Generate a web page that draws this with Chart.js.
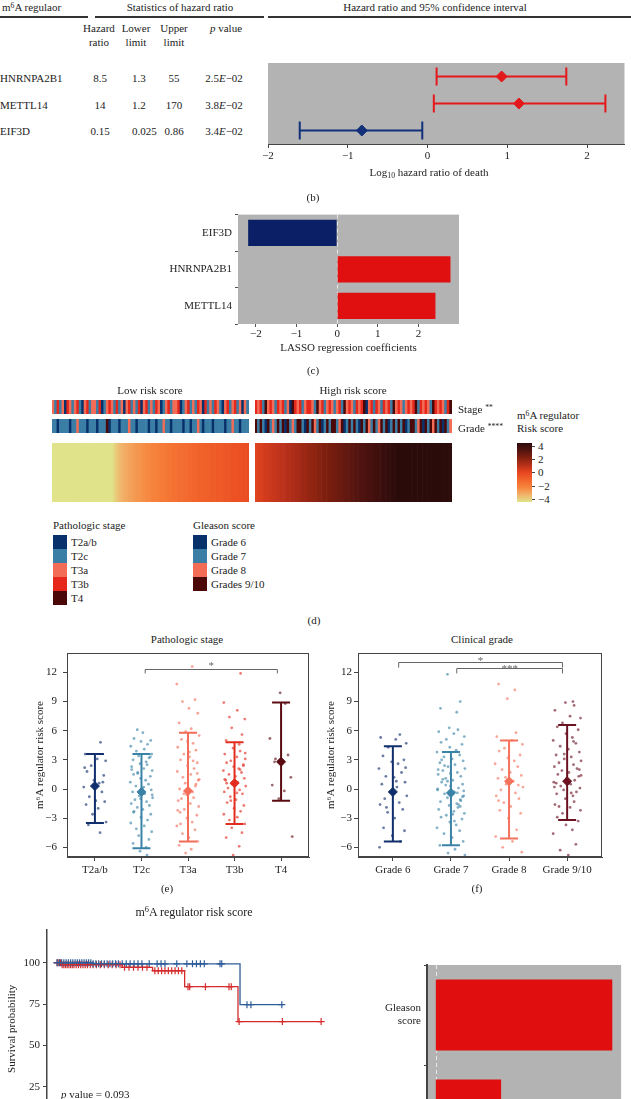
<!DOCTYPE html>
<html>
<head>
<meta charset="utf-8">
<script src="https://cdn.jsdelivr.net/npm/chart.js@4.4.0/dist/chart.umd.min.js"></script>
<style>
html, body { margin: 0; padding: 0; background: #fff; overflow: hidden; }
#page { position: relative; width: 631px; height: 1099px; overflow: hidden; font-family: "Liberation Serif", "DejaVu Serif", serif; font-size: 11px; color: #222; }
#page canvas { position: absolute; }
.t { position: absolute; white-space: nowrap; line-height: 1; }
.t sup { font-size: 70%; position: relative; top: -0.45em; vertical-align: 0; }
.t sub { font-size: 70%; position: relative; top: 0.3em; vertical-align: 0; }
.rule { position: absolute; height: 2px; background: #333; }
.sw { position: absolute; width: 14px; height: 14px; }
</style>
</head>
<body>
<div id="page"></div>
<script>
// (b) univariate cox table + forest plot
const genes = ['HNRNPA2B1', 'METTL14', 'EIF3D'];
const hazardRatio = [8.5, 14, 0.15];
const lowerLimit = [1.3, 1.2, 0.025];
const upperLimit = [55, 170, 0.86];
const pValue = ['2.5', '3.8', '3.4'];
const forestTicks = [-2, -1, 0, 1, 2];

// (c) LASSO coefficients
const lassoGenes = ['EIF3D', 'HNRNPA2B1', 'METTL14'];
const lassoCoef = [-2.19, 2.79, 2.42];
const lassoTicks = [-2, -1, 0, 1, 2];

// (d) heatmap, samples sorted by risk score
const riskLow = [-6.3,-6.0,-5.8,-5.6,-5.5,-5.4,-5.3,-5.2,-5.1,-5.0,-4.9,-4.9,-4.8,-4.7,-4.6,-4.6,-4.5,-4.4,-4.4,-4.3,-4.2,-4.2,-4.1,-4.0,-4.0,
  -3.7,-3.4,-3.2,-3.0,-2.9,-2.8,-2.7,-2.6,-2.5,-2.4,-2.4,-2.3,-2.2,-2.1,-2.1,-2.0,-1.9,-1.9,-1.8,-1.7,-1.7,-1.6,-1.5,-1.5,-1.4,
  -1.4,-1.3,-1.3,-1.2,-1.2,-1.1,-1.1,-1.0,-1.0,-0.9,-0.9,-0.9,-0.8,-0.8,-0.7,-0.7,-0.7,-0.6,-0.6,-0.6,-0.5,-0.5,-0.5,-0.4,-0.4,
  -0.4,-0.3,-0.3,-0.3,-0.2];
const riskHigh = [0.2,0.3,0.3,0.4,0.5,0.5,0.6,0.7,0.7,0.8,0.9,0.9,1.0,1.1,1.1,1.2,1.3,1.3,1.4,1.5,
  1.5,1.6,1.7,1.7,1.8,1.9,1.9,2.0,2.1,2.1,2.2,2.3,2.3,2.4,2.5,2.5,2.6,2.7,2.7,2.8,
  2.9,2.9,3.0,3.1,3.1,3.2,3.3,3.3,3.4,3.5,3.5,3.6,3.7,3.7,3.8,3.9,3.9,4.0,4.2,4.4,
  4.6,4.9,5.2,5.5,5.8,6.1,6.4,6.8,7.2,7.6,8.0,8.4,8.9,9.4,9.9,10.4,10.9,11.4,11.9,12.6];
// stage code per sample: 0 T2a/b, 1 T2c, 2 T3a, 3 T3b, 4 T4
const stageLow  = '2131203212 3102312213 0123213120 2312130231 2132012312 2301231213 2031213210 2312312021';
const stageHigh = '3231423213 2312043231 2332142312 3212314232 1323402313 2132314232 1232341323 2143232134';
// grade code per sample: 0 Grade 6, 1 Grade 7, 2 Grade 8, 3 Grades 9/10
const gradeLow  = '1101111011 2111011101 1130111011 1211011110 1101121101 1110110112 1011101111 0112110111';
const gradeHigh = '3131031213 1303121331 0313213013 1331230131 3103132131 2313013131 3013312303 1323130312';
const stageNames = ['T2a/b', 'T2c', 'T3a', 'T3b', 'T4'];
const gradeNames = ['Grade 6', 'Grade 7', 'Grade 8', 'Grades 9/10'];
const heatTicks = [4, 2, 0, -2, -4];

// (e) risk score by pathologic stage
const stageCats = ['T2a/b', 'T2c', 'T3a', 'T3b', 'T4'];
const stageMean = [0.3, -0.3, -0.2, 0.6, 2.8];
const stageLo = [-3.5, -6.1, -5.4, -3.6, -1.2];
const stageHi = [3.6, 3.6, 5.8, 4.8, 8.9];
const ptsT2ab = [4.8,3.6,3.1,2.9,2.4,1.8,1.4,0.9,0.6,0.2,-0.3,-0.8,-1.2,-1.3,-1.6,-2.0,-2.6,-3.4,-3.7,-4.5,2.2,0.7];
const ptsT2c = [6.1,5.8,5.2,5.0,4.9,4.6,4.4,4.1,3.9,3.6,3.4,3.2,3.0,2.8,2.6,2.5,2.3,2.1,1.9,1.7,1.5,1.3,1.1,0.9,0.7,0.5,0.3,0.1,-0.1,-0.3,
  -0.5,-0.7,-0.9,-1.1,-1.3,-1.5,-1.7,-1.9,-2.1,-2.3,-2.6,-2.9,-3.2,-3.5,-3.8,-4.1,-4.4,-4.8,-5.2,-5.6,-6.0,-6.4,-6.8,2.0,0.2,-0.6,1.6,-2.4,3.3,-1.0];
const ptsT3a = [12.6,10.8,9.2,9.0,8.3,7.8,6.8,6.2,5.9,5.5,5.1,4.7,4.3,4.0,3.6,3.3,3.0,2.7,2.4,2.1,1.8,1.5,1.2,0.9,0.6,0.3,0.0,-0.3,-0.6,-0.9,
  -1.2,-1.5,-1.8,-2.1,-2.4,-2.7,-3.0,-3.4,-3.8,-4.2,-4.6,-5.0,-5.4,-5.8,-6.2,-6.6,1.0,-1.0,2.9,-2.2,0.5,-0.5,3.8,-3.6,1.6,4.9];
const ptsT3b = [11.9,8.9,8.1,7.4,7.2,6.3,5.6,5.0,4.6,4.2,3.9,3.6,3.3,3.1,2.9,2.7,2.5,2.3,2.1,1.9,1.7,1.5,1.3,1.1,0.9,0.7,0.5,0.3,0.1,-0.1,
  -0.3,-0.5,-0.8,-1.1,-1.4,-1.7,-2.0,-2.3,-2.6,-2.9,-3.2,-3.6,-4.0,-4.5,-5.0,-5.9,-6.8,2.0,1.0,-0.4,3.7,-1.2,0.6,2.4];
const ptsT4 = [9.9,8.8,5.2,3.5,3.1,2.6,1.2,0.4,-0.2,-1.0,-4.9,2.8];

// (f) risk score by clinical grade
const gradeCats = ['Grade 6', 'Grade 7', 'Grade 8', 'Grade 9/10'];
const gradeMean = [-0.3, -0.4, 0.8, 0.8];
const gradeLo = [-5.4, -5.8, -5.1, -3.2];
const gradeHi = [4.4, 3.8, 5.0, 6.6];
const ptsG6 = [5.6,5.3,5.1,4.7,4.3,3.4,3.0,2.8,2.6,2.1,1.7,1.3,1.2,0.7,0.5,0.2,-0.3,-0.7,-1.0,-1.4,-1.6,-2.1,-2.4,-3.0,-4.0,-4.3,-4.8,-5.4,-6.0,0.8,-1.9,2.2];
const ptsG7 = [11.8,9.0,8.3,7.9,6.3,6.1,5.9,5.7,5.4,5.1,4.8,4.6,4.3,4.0,3.8,3.5,3.3,3.1,2.9,2.7,2.5,2.3,2.1,1.9,1.7,1.5,1.3,1.1,0.9,0.7,
  0.5,0.3,0.1,-0.1,-0.3,-0.5,-0.7,-0.9,-1.1,-1.3,-1.5,-1.7,-1.9,-2.1,-2.3,-2.5,-2.7,-2.9,-3.1,-3.4,-3.7,-4.0,-4.3,-4.6,-5.0,-5.4,-5.8,-6.2,-6.6,-6.8,
  1.0,-0.4,2.0,-1.2,0.4,-2.6,3.0,-0.8,1.6,-1.6,0.0,-3.3,2.4,-0.2,0.8,-1.8];
const ptsG8 = [10.8,10.2,9.3,5.8,5.4,5.0,4.6,4.2,3.9,3.5,3.2,2.9,2.6,2.3,2.0,1.7,1.4,1.1,0.8,0.5,0.2,-0.1,-0.4,-0.7,-1.0,-1.4,-1.8,-2.2,-2.5,-3.0,
  -4.2,-4.9,-5.4,-6.0,-6.5,1.2,0.4,-1.2];
const ptsG910 = [9.0,8.9,8.6,8.1,7.5,7.3,6.8,6.4,6.1,5.7,5.3,5.0,4.7,4.4,4.1,3.8,3.5,3.3,3.1,2.9,2.7,2.5,2.3,2.1,1.9,1.7,1.5,1.3,1.1,0.9,
  0.7,0.5,0.3,0.1,-0.1,-0.3,-0.5,-0.7,-1.0,-1.3,-1.6,-1.9,-2.2,-2.5,-2.9,-3.3,-3.7,-4.2,-4.6,-5.7,-6.3,-6.8,2.0,0.6,-0.4,3.6,1.4,-1.8,4.9,0.2];
const riskTicks = [-6, -3, 0, 3, 6, 9, 12];
// horizontal spread of the dots (category units)
const jitter = [0.12,-0.21,0.05,0.23,-0.08,-0.17,0.19,-0.02,0.09,-0.24,0.15,-0.12,0.02,0.21,-0.19,0.07,-0.05,0.24,-0.14,0.11,
  -0.22,0.17,-0.09,0.03,-0.16,0.2,-0.01,0.13,-0.23,0.06,-0.11,0.22,-0.06,0.16,-0.18,0.1,-0.03];

// (g) Kaplan-Meier, days
const kmTimeLow = [0, 700, 3316, 4078];
const kmSurvLow = [100, 99.3, 74.6, 74.6];
const kmTimeHigh = [0, 150, 1220, 1760, 2330, 3280, 4760];
const kmSurvHigh = [100, 98.8, 97.2, 95.1, 85.5, 64.4, 64.4];
const censorLow = [60,100,140,180,220,260,300,340,380,420,460,500,540,580,620,660,700,750,800,850,900,950,1000,1050,1100,1150,
  1220,1290,1360,1430,1500,1570,1700,1840,1910,1980,2190,2370,2470,2540,2610,2680,2960,2990,3440,3510,4060];
const censorHigh = [60,90,120,150,180,210,240,270,300,330,360,400,440,480,520,560,600,650,700,760,830,900,970,1040,1110,1180,
  1260,1340,1420,1500,1580,1660,1800,1860,1920,1980,2040,2100,2160,2220,2280,2390,2420,2700,3120,3160,3300,4070,4760];
const kmTicks = [0, 25, 50, 75, 100];

// (h) multivariate bars
const coxVars = [['Gleason', 'score'], 'Risk score'];
const coxCoef = [2.0, 0.74];

const SERIF = '"Liberation Serif", "DejaVu Serif", serif';
Chart.defaults.font.family = SERIF;
Chart.defaults.font.size = 11;
Chart.defaults.color = '#222';
Chart.defaults.animation = false;
Chart.defaults.responsive = false;
Chart.defaults.events = [];
Chart.defaults.plugins.legend.display = false;
Chart.defaults.plugins.tooltip.enabled = false;

const page = document.getElementById('page');
const fmt = v => v < 0 ? '\u2212' + Math.abs(v) : String(v);

function mk(x, y, w, h) {
    const c = document.createElement('canvas');
    c.width = w; c.height = h;
    c.style.left = x + 'px'; c.style.top = y + 'px';
    c.style.width = w + 'px'; c.style.height = h + 'px';
    page.appendChild(c);
    return c;
}

function put(html, x, y, align, size) {
    const d = document.createElement('div');
    d.className = 't';
    d.innerHTML = html;
    const tx = align === 'left' ? '0' : align === 'right' ? '-100%' : '-50%';
    d.style.left = x + 'px';
    d.style.top = y + 'px';
    d.style.transform = 'translate(' + tx + ',-50%)';
    if (size) d.style.fontSize = size + 'px';
    page.appendChild(d);
    return d;
}

function box(cls, x, y, w, h, color) {
    const d = document.createElement('div');
    d.className = cls;
    d.style.left = x + 'px'; d.style.top = y + 'px';
    if (w != null) d.style.width = w + 'px';
    if (h != null) d.style.height = h + 'px';
    if (color) d.style.background = color;
    page.appendChild(d);
    return d;
}

// plugins
const panelBg = {
    id: 'panelBg',
    beforeDraw(chart, a, o) {
        if (!o.color) return;
        const { ctx, chartArea: c } = chart;
        ctx.save();
        ctx.fillStyle = o.color;
        ctx.fillRect(c.left, c.top, c.width, c.height);
        ctx.restore();
    }
};
const frame = {
    id: 'frame',
    afterDraw(chart, a, o) {
        if (!o.color) return;
        const { ctx, chartArea: c } = chart;
        ctx.save();
        ctx.strokeStyle = o.color;
        ctx.lineWidth = 1;
        ctx.strokeRect(Math.round(c.left) + 0.5, Math.round(c.top) + 0.5, Math.round(c.width) - 1, Math.round(c.height) - 1);
        ctx.restore();
    }
};
const zeroLine = {
    id: 'zeroLine',
    beforeDatasetsDraw(chart, a, o) {
        if (!o.color) return;
        const { ctx, chartArea: c } = chart;
        const x = Math.round(chart.scales.x.getPixelForValue(0)) + 0.5;
        ctx.save();
        ctx.strokeStyle = o.color;
        ctx.lineWidth = 1;
        ctx.setLineDash([4, 3]);
        ctx.beginPath();
        ctx.moveTo(x, c.top);
        ctx.lineTo(x, c.bottom);
        ctx.stroke();
        ctx.restore();
    }
};
function drawErr(chart, o) {
    const { ctx, scales: { x, y } } = chart;
    ctx.save();
    ctx.lineWidth = o.width;
    o.lo.forEach((lo, i) => {
        const hi = o.hi[i];
        ctx.strokeStyle = o.colors[i];
        ctx.beginPath();
        if (o.horizontal) {
            const py = y.getPixelForValue(i), a = x.getPixelForValue(lo), b = x.getPixelForValue(hi);
            ctx.moveTo(a, py); ctx.lineTo(b, py);
            ctx.moveTo(a, py - o.cap); ctx.lineTo(a, py + o.cap);
            ctx.moveTo(b, py - o.cap); ctx.lineTo(b, py + o.cap);
        } else {
            const px = x.getPixelForValue(i + 1), a = y.getPixelForValue(lo), b = y.getPixelForValue(hi);
            ctx.moveTo(px, a); ctx.lineTo(px, b);
            ctx.moveTo(px - o.cap, a); ctx.lineTo(px + o.cap, a);
            ctx.moveTo(px - o.cap, b); ctx.lineTo(px + o.cap, b);
        }
        ctx.stroke();
    });
    ctx.restore();
}
const errBars = {
    id: 'errBars',
    beforeDatasetsDraw(chart, a, o) { if (o.lo && o.horizontal) drawErr(chart, o); },
    afterDatasetDraw(chart, a, o) { if (o.lo && !o.horizontal && a.index === 0) drawErr(chart, o); }
};
const brackets = {
    id: 'brackets',
    afterDatasetsDraw(chart, a, o) {
        if (!o.items) return;
        const { ctx, scales: { x, y } } = chart;
        ctx.save();
        ctx.strokeStyle = '#666';
        ctx.fillStyle = '#666';
        ctx.lineWidth = 1;
        ctx.font = '11px ' + SERIF;
        ctx.textAlign = 'center';
        o.items.forEach(b => {
            const xa = x.getPixelForValue(b.a), xb = x.getPixelForValue(b.b);
            const yt = Math.round(y.getPixelForValue(b.y)) + 0.5, yd = y.getPixelForValue(b.y - b.drop);
            ctx.beginPath();
            ctx.moveTo(xa, yd); ctx.lineTo(xa, yt); ctx.lineTo(xb, yt); ctx.lineTo(xb, yd);
            ctx.stroke();
            ctx.fillText(b.text, (xa + xb) / 2, yt + b.dy);
        });
        ctx.restore();
    }
};
Chart.register(panelBg, frame, zeroLine, errBars, brackets);

const tickGrid = { display: true, drawOnChartArea: false, tickLength: 4, color: '#444' };
const axisBorder = { display: true, color: '#444', width: 1 };
const GRAY = '#b3b3b3';
const RED = '#e3191c', NAVY = '#12307a';

// ---------- (b) ----------
put('m<sup>6</sup>A regulaor', 2, 7, 'left');
put('Statistics of hazard ratio', 180, 7);
put('Hazard ratio and 95% confidence interval', 435, 7);
box('rule', 0, 16, 88);
box('rule', 95, 16, 169);
box('rule', 268, 16, 363);
put('Hazard', 99, 28); put('ratio', 99, 42);
put('Lower', 136, 28); put('limit', 136, 42);
put('Upper', 174, 28); put('limit', 174, 42);
put('<i>p</i> value', 226, 28);
const rowY = [78, 105, 131];
genes.forEach((g, i) => {
    put(g, 0, rowY[i], 'left');
    put(String(hazardRatio[i]), 100, rowY[i]);
    put(String(lowerLimit[i]), 132, rowY[i], 'left');
    put(String(upperLimit[i]), 174, rowY[i]);
    put(pValue[i] + '<i>E</i>\u221202', 224, rowY[i]);
});
const hrCols = hazardRatio.map(h => h > 1 ? RED : NAVY);
new Chart(mk(260, 55, 371, 130), {
    type: 'scatter',
    data: {
        datasets: [{
            data: genes.map((g, i) => ({ x: Math.log10(hazardRatio[i]), y: g })),
            pointStyle: 'rectRot', pointRadius: 5.5,
            backgroundColor: hrCols, borderColor: hrCols
        }]
    },
    options: {
        layout: { padding: { left: 8, top: 8, right: 2, bottom: 0 } },
        scales: {
            x: {
                type: 'linear', min: -2, max: 2.47,
                afterBuildTicks: s => { s.ticks = forestTicks.map(v => ({ value: v })); },
                afterFit: s => { s.height = 41; },
                grid: tickGrid, border: axisBorder,
                ticks: { callback: fmt, padding: 2 }
            },
            y: { type: 'category', labels: genes, offset: true, display: false }
        },
        plugins: {
            panelBg: { color: GRAY },
            errBars: { horizontal: true, lo: lowerLimit.map(Math.log10), hi: upperLimit.map(Math.log10), colors: hrCols, width: 2, cap: 9 }
        }
    }
});
put('Log<sub>10</sub> hazard ratio of death', 429, 172);
put('(b)', 313, 197);

// ---------- (c) ----------
new Chart(mk(150, 205, 320, 155), {
    type: 'bar',
    data: {
        labels: lassoGenes,
        datasets: [{
            data: lassoCoef,
            backgroundColor: lassoCoef.map(v => v < 0 ? '#0a1f66' : '#e00f10'),
            categoryPercentage: 1, barPercentage: 0.72
        }]
    },
    options: {
        indexAxis: 'y',
        layout: { padding: { top: 6, right: 11 } },
        scales: {
            x: {
                min: -2.44, max: 3.0,
                afterBuildTicks: s => { s.ticks = lassoTicks.map(v => ({ value: v })); },
                afterFit: s => { s.height = 36; },
                grid: { display: true, drawOnChartArea: false, tickLength: 3, color: '#555' },
                border: { display: false },
                ticks: { callback: fmt, padding: 1 },
                title: { display: true, text: 'LASSO regression coefficients', padding: { top: 0, bottom: 5 } }
            },
            y: {
                afterFit: s => { s.width = 88; },
                grid: { display: true, drawOnChartArea: false, tickLength: 3, color: '#555' },
                border: { display: false },
                ticks: { padding: 3 }
            }
        },
        plugins: { panelBg: { color: GRAY }, zeroLine: { color: '#e8e8e8' } }
    }
});
put('(c)', 313, 370);

// ---------- (d) ----------
const stageCols = ['#08306b', '#3a7ea6', '#f26c56', '#e6281c', '#4a0808'];
const gradeCols = ['#08306b', '#3a7ea6', '#f26c56', '#4a0808'];
const heatStops = [[-4, '#e0e38a'], [-3, '#f2b26a'], [-2, '#f6843c'], [-1, '#f2652c'], [0, '#e8461f'],
    [1, '#b8301a'], [2, '#82200f'], [3, '#521410'], [4, '#2c0b0b']];
const hexRgb = h => [1, 3, 5].map(i => parseInt(h.slice(i, i + 2), 16));
function heatColor(v) {
    v = Math.max(-4, Math.min(4, v));
    for (let i = 1; i < heatStops.length; i++) {
        if (v <= heatStops[i][0]) {
            const [v0, c0] = heatStops[i - 1], [v1, c1] = heatStops[i];
            const f = (v - v0) / (v1 - v0), a = hexRgb(c0), b = hexRgb(c1);
            return 'rgb(' + a.map((x, k) => Math.round(x + (b[k] - x) * f)).join(',') + ')';
        }
    }
    return heatStops[heatStops.length - 1][1];
}
const codes = s => s.replace(/ /g, '').split('').map(Number);

function stripe(x, y, w, h, colors) {
    new Chart(mk(x, y, w, h), {
        type: 'bar',
        data: {
            labels: colors.map((c, i) => i),
            datasets: [{ data: colors.map(() => 1), backgroundColor: colors, categoryPercentage: 1, barPercentage: 1, borderWidth: 0 }]
        },
        options: {
            layout: { padding: 0 },
            scales: { x: { display: false }, y: { display: false, min: 0, max: 1 } }
        }
    });
}
stripe(52, 400, 197, 14, codes(stageLow).map(c => stageCols[c]));
stripe(255, 400, 197, 14, codes(stageHigh).map(c => stageCols[c]));
stripe(52, 419, 197, 14, codes(gradeLow).map(c => gradeCols[c]));
stripe(255, 419, 197, 14, codes(gradeHigh).map(c => gradeCols[c]));
stripe(52, 443, 197, 59, riskLow.map(heatColor));
stripe(255, 443, 197, 59, riskHigh.map(heatColor));

put('Low risk score', 150, 390);
put('High risk score', 353, 390);
put('Stage <sup>**</sup>', 458, 409, 'left');
put('Grade <sup>****</sup>', 458, 428, 'left');
put('m<sup>6</sup>A regulator', 517, 415, 'left');
put('Risk score', 517, 428, 'left');
const cb = box('t', 517, 443, 15, 59);
cb.style.background = 'linear-gradient(to top,' + heatStops.map((s, i) => s[1] + ' ' + (i * 100 / (heatStops.length - 1)) + '%').join(',') + ')';
heatTicks.forEach(v => {
    const y = 446 + (4 - v) * 6.6;
    box('t', 532, y, 3, 1, '#444');
    put(fmt(v), 538, y, 'left');
});

put('Pathologic stage', 53, 525, 'left');
stageNames.forEach((n, i) => {
    box('sw', 53, 535 + i * 14, 14, 14, stageCols[i]);
    put(n, 71, 542 + i * 14, 'left');
});
put('Gleason score', 193, 525, 'left');
gradeNames.forEach((n, i) => {
    box('sw', 193, 535 + i * 14, 14, 14, gradeCols[i]);
    put(n, 211, 542 + i * 14, 'left');
});
put('(d)', 314, 620);

// ---------- (e) (f) ----------
function riskPanel(cv, cats, pts, mean, lo, hi, cols, pad, yAxisW, tickPad, items) {
    const data = [], ptCols = [];
    let k = 0;
    pts.forEach((vals, g) => vals.forEach(v => {
        data.push({ x: g + 1 + jitter[k % jitter.length], y: v });
        ptCols.push(cols[g] + 'a0');
        k++;
    }));
    return new Chart(cv, {
        type: 'scatter',
        data: {
            datasets: [
                { data, backgroundColor: ptCols, borderWidth: 0, pointRadius: 1.4 },
                { data: mean.map((m, i) => ({ x: i + 1, y: m })), backgroundColor: cols, borderColor: cols, pointStyle: 'rectRot', pointRadius: 4.5 }
            ]
        },
        options: {
            layout: { padding: pad },
            scales: {
                x: {
                    type: 'linear', min: 0.4, max: cats.length + 0.6,
                    afterBuildTicks: s => { s.ticks = cats.map((c, i) => ({ value: i + 1 })); },
                    afterFit: s => { s.height = 33; },
                    ticks: { callback: v => cats[v - 1], padding: 3, maxRotation: 0, autoSkip: false },
                    grid: tickGrid, border: axisBorder
                },
                y: {
                    min: -7, max: 14,
                    afterBuildTicks: s => { s.ticks = riskTicks.map(v => ({ value: v })); },
                    afterFit: s => { s.width = yAxisW; },
                    ticks: { callback: fmt, padding: tickPad },
                    grid: tickGrid, border: axisBorder,
                    title: { display: true, text: 'm\u2076A regulator risk score', padding: { top: 4, bottom: 4 } }
                }
            },
            plugins: {
                frame: { color: '#444' },
                errBars: { lo, hi, colors: cols, width: 2, cap: 9 },
                brackets: { items }
            }
        }
    });
}
const stageBarCols = ['#102f6c', '#3a82a6', '#f36c57', '#e22c20', '#5a0c12'];
const gradeBarCols = ['#102f6c', '#3a82a6', '#f4725c', '#6b1222'];
put('Pathologic stage', 187, 639);
riskPanel(mk(0, 630, 320, 260), stageCats, [ptsT2ab, ptsT2c, ptsT3a, ptsT3b, ptsT4], stageMean, stageLo, stageHi,
    stageBarCols, { left: 30, top: 23, right: 11, bottom: 0 }, 37, 6,
    [{ a: 2.08, b: 4.92, y: 12.4, drop: 0.5, text: '*', dy: -1 }]);
put('(e)', 167, 888);

put('Clinical grade', 482, 639);
riskPanel(mk(310, 630, 321, 260), gradeCats, [ptsG6, ptsG7, ptsG8, ptsG910], gradeMean, gradeLo, gradeHi,
    gradeBarCols, { left: 11, top: 23, right: 29, bottom: 0 }, 37, 2,
    [{ a: 1.1, b: 3.92, y: 13.1, drop: 0.6, text: '*', dy: 1 }, { a: 2.1, b: 3.92, y: 12.5, drop: 0.6, text: '***', dy: 3 }]);
put('(f)', 477, 888);

// ---------- (g) ----------
const KM_BLUE = '#2f5d99', KM_RED = '#d52b2b';
function survAt(ts, ss, t) {
    let s = ss[0];
    ts.forEach((tt, i) => { if (tt <= t) s = ss[i]; });
    return s;
}
put('m<sup>6</sup>A regulator risk score', 194, 912, 'center', 12);
new Chart(mk(0, 920, 350, 240), {
    type: 'line',
    data: {
        datasets: [
            { data: kmTimeLow.map((t, i) => ({ x: t, y: kmSurvLow[i] })), stepped: true, borderColor: KM_BLUE, borderWidth: 1.3, pointRadius: 0 },
            { data: kmTimeHigh.map((t, i) => ({ x: t, y: kmSurvHigh[i] })), stepped: true, borderColor: KM_RED, borderWidth: 1.3, pointRadius: 0 },
            { type: 'scatter', data: censorLow.map(t => ({ x: t, y: survAt(kmTimeLow, kmSurvLow, t) })), pointStyle: 'cross', pointRadius: 3.5, borderColor: KM_BLUE, borderWidth: 1.2 },
            { type: 'scatter', data: censorHigh.map(t => ({ x: t, y: survAt(kmTimeHigh, kmSurvHigh, t) })), pointStyle: 'cross', pointRadius: 3.5, borderColor: KM_RED, borderWidth: 1.2 }
        ]
    },
    options: {
        layout: { padding: { left: 2, top: 5, right: 5, bottom: 0 } },
        scales: {
            x: { type: 'linear', min: -120, max: 5000, afterFit: s => { s.height = 32; }, grid: { display: false }, border: axisBorder },
            y: {
                min: 0, max: 120,
                afterBuildTicks: s => { s.ticks = kmTicks.map(v => ({ value: v })); },
                afterFit: s => { s.width = 45; },
                grid: tickGrid, border: { display: true, color: '#444', width: 1.5 },
                ticks: { padding: 3 },
                title: { display: true, text: 'Survival probability', padding: { top: 4, bottom: 4 } }
            }
        }
    }
});
put('<i>p</i> value = 0.093', 61, 1094, 'left');

// ---------- (h) ----------
new Chart(mk(380, 955, 251, 245), {
    type: 'bar',
    data: {
        labels: coxVars,
        datasets: [{ data: coxCoef, backgroundColor: '#e00e0e', categoryPercentage: 1, barPercentage: 0.71 }]
    },
    options: {
        indexAxis: 'y',
        layout: { padding: { top: 10, right: 7 } },
        scales: {
            x: { min: -0.1, max: 2.1, afterFit: s => { s.height = 35; }, grid: { display: false } },
            y: {
                afterFit: s => { s.width = 47; },
                grid: { display: true, drawOnChartArea: false, tickLength: 3, color: '#444' },
                border: { display: true, color: '#444', width: 2 },
                ticks: { padding: 3 }
            }
        },
        plugins: { panelBg: { color: GRAY }, zeroLine: { color: '#e8e8e8' } }
    }
});
</script>
</body>
</html>
